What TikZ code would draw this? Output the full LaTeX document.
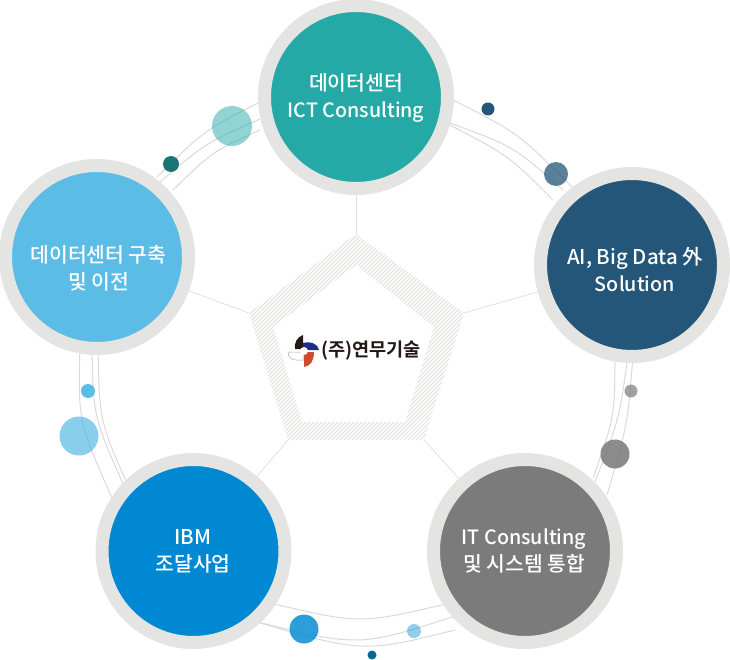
\documentclass[tikz,border=0pt]{standalone}
\usepackage{fontspec}
\setmainfont{Noto Sans CJK KR Medium}
\newfontfamily\logofont{Noto Sans CJK KR Bold}
\usetikzlibrary{patterns.meta}
\definecolor{ringgray}{HTML}{E4E4E3}
\definecolor{linegray}{HTML}{DADADA}
\definecolor{tealc}{HTML}{25A9A7}
\definecolor{navyc}{HTML}{235678}
\definecolor{skyc}{HTML}{5BBCE5}
\definecolor{bluec}{HTML}{0089D2}
\definecolor{grayc}{HTML}{7B7B7B}
\definecolor{logoblack}{HTML}{231815}
\definecolor{logoblue}{HTML}{1E2A8C}
\definecolor{logored}{HTML}{CF4A30}
\newcommand{\latn}[1]{{\fontsize{19.7}{27}\selectfont #1}}
\tikzstyle{disc} = [circle, draw=ringgray, line width=13pt, minimum size=183pt, inner sep=0pt]
\tikzstyle{disctext} = [inner sep=0pt, align=center, text=white, font=\fontsize{20.4}{27}\selectfont]
\tikzstyle{dot} = [circle, inner sep=0pt, minimum size=#1]
\tikzstyle{ring} = [draw=linegray, line width=1pt]
\tikzstyle{spoke} = [draw=linegray!80, line width=0.8pt]

\begin{document}
\begin{tikzpicture}[x=1pt,y=-1pt]
\useasboundingbox (0,0) rectangle (730,660);

% Pentagon
\coordinate (p1) at (356,234);
\coordinate (p2) at (464,313);
\coordinate (p3) at (424,440);
\coordinate (p4) at (288,440);
\coordinate (p5) at (249,313);
\path [pattern={Lines[angle=45,distance=2.83pt,line width=1.2pt]}, pattern color=ringgray, even odd rule]
  (p1) -- (p2) -- (p3) -- (p4) -- (p5) -- cycle
  (356,265) -- (434,327) -- (405,422) -- (302,422) -- (273,327) -- cycle;

% Arcs top left
\draw [ring] (258,103) .. controls (204.2,130.4) .. (157,177);
\draw [ring] (260,119) .. controls (206,142.8) .. (160,182);
\draw [ring] (260,130) .. controls (211.8,152) .. (173,190);

% Arcs top right
\draw [ring] (453,100) .. controls (518.5,133.2) .. (572,187);
\draw [ring] (450,123) .. controls (513.8,146.5) .. (563,190);
\draw [ring] (450,125) .. controls (508.8,155.8) .. (553,200);

% Arcs right
\draw [ring] (615,355) .. controls (614.7,417) .. (593,478);
\draw [ring] (628,355) .. controls (619.4,418.5) .. (595,482);
\draw [ring] (633,355) .. controls (627.6,425) .. (607,495);

% Arcs bottom
\draw [ring] (270,603) .. controls (360,624.3) .. (450,603);
\draw [ring] (250,620) .. controls (358.5,647.3) .. (455,616);
\draw [ring] (250,620) .. controls (362.5,653) .. (455,630);

% Arcs left
\draw [ring] (80,345) .. controls (78,421) .. (112,498);
\draw [ring] (92,345) .. controls (93.2,417) .. (125,488);
\draw [ring] (98,345) .. controls (99.3,421) .. (130,490);

% Main circles
\node (cons) [disc, fill=tealc] at (356,97) {};
\node (sol) [disc, fill=navyc] at (632,265) {};
\node (move) [disc, fill=skyc] at (97,257) {};
\node (ibm) [disc, fill=bluec] at (193.5,551) {};
\node (itc) [disc, fill=grayc] at (525,551) {};

% Circle texts
\node (consT) [disctext] at (356,98) {데이터센터\\\latn{ICT Consulting}};
\node (solT) [disctext] at (635,270) {AI, Big Data 外\\\latn{Solution}};
\node (moveT) [disctext] at (98.5,268) {데이터센터 구축\\및 이전};
\node (ibmT) [disctext] at (193,551.5) {IBM\\조달사업};
\node (itcT) [disctext] at (524,551.5) {\latn{IT Consulting}\\및 시스템 통합};

% Spokes
\draw [spoke] (cons) -- (p1);
\draw [spoke] (sol) -- (p2);
\draw [spoke] (itc) -- (p3);
\draw [spoke] (ibm) -- (p4);
\draw [spoke] (move) -- (p5);

% Small dots
\node (d1) [dot=40pt, fill=tealc, opacity=0.5] at (232,126) {};
\node (d2) [dot=16pt, fill=tealc!70!black] at (171,164) {};
\node (d3) [dot=13pt, fill=navyc] at (488,109) {};
\node (d4) [dot=24pt, fill=navyc, opacity=0.75] at (556,174) {};
\node (d5) [dot=13pt, fill=grayc, opacity=0.7] at (631,391) {};
\node (d6) [dot=29pt, fill=grayc, opacity=0.87] at (615,454) {};
\node (d7) [dot=29pt, fill=bluec, opacity=0.82] at (304,629) {};
\node (d8) [dot=14pt, fill=bluec, opacity=0.42] at (414,631) {};
\node (d9) [dot=9pt, fill=bluec!75!black] at (372,655) {};
\node (d10) [dot=14pt, fill=skyc] at (88,391) {};
\node (d11) [dot=39pt, fill=skyc, opacity=0.72] at (79,436) {};

% Logo
\fill [logoblack] (303,349) -- (303,335) .. controls (297,337) and (294,343) .. (295,349) -- cycle;
\fill [logoblue] (303,350) -- (303,343) .. controls (311,341) and (318,344) .. (319,350) -- cycle;
\fill [logored] (304,367) -- (304,352) -- (314,352) .. controls (314,360) and (311,366) .. (304,367) -- cycle;
\draw [gray!70, fill=white, line width=0.5pt] (288,352) -- (303,352) -- (303,360) -- (296,360) .. controls (291,360) and (288,357) .. (288,352) -- cycle;
\fill [white] (304,351) circle (4);
\node (logo) [inner sep=0pt, text=logoblack, font=\logofont\fontsize{18.6}{20}\selectfont] at (371,351) {(주)연무기술};

\end{tikzpicture}
\end{document}
